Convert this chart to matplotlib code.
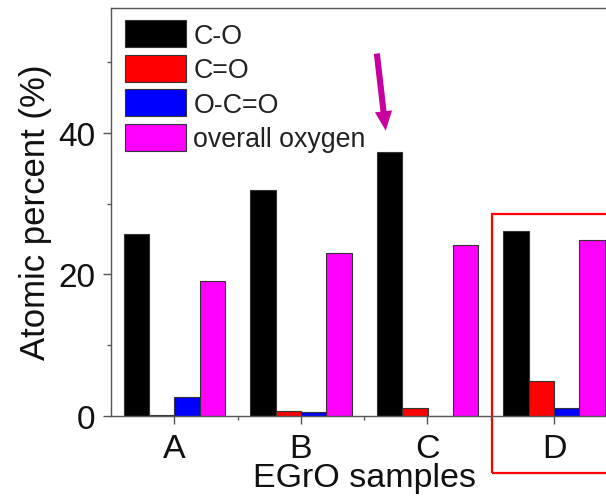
import matplotlib
matplotlib.use("Agg")
import matplotlib.pyplot as plt
from matplotlib.patches import Rectangle
import numpy as np

plt.rcParams['font.family'] = ['Liberation Sans', 'DejaVu Sans']

samples = ['A', 'B', 'C', 'D']
series_names = ['C-O', 'C=O', 'O-C=O', 'overall oxygen']
c_o = [25.7, 31.9, 37.3, 26.2]
c_eq_o = [0.15, 0.7, 1.1, 4.9]
o_c_eq_o = [2.7, 0.5, 0.0, 1.1]
overall = [19.0, 23.0, 24.1, 24.9]
colors = ['#000000', '#ff0000', '#0000ff', '#ff00ff']

fig = plt.figure(figsize=(6.06, 5.02), dpi=100)
ax = fig.add_axes([111/606, 85/502, (617.4-111)/606, (417-8.5)/502])

x = np.arange(1, len(samples) + 1)
width = 0.2
offsets = [-0.3, -0.1, 0.1, 0.3]
for vals, name, col, off in zip([c_o, c_eq_o, o_c_eq_o, overall], series_names, colors, offsets):
    ax.bar(x + off, vals, width, color=col, edgecolor='#333333', linewidth=0.8, label=name)

ax.set_xlim(0.5, 4.5)
ax.set_ylim(0, 57.7)
ax.set_xticks(x)
ax.set_xticklabels(samples)
ax.set_xticks([1.5, 2.5, 3.5], minor=True)
ax.set_yticks([0, 20, 40])
ax.set_yticks([10, 30, 50], minor=True)

for s in ax.spines.values():
    s.set_color('#555555')
    s.set_linewidth(1.0)

ax.tick_params(axis='both', which='major', direction='out', length=6, width=1,
               color='#555555', labelsize=24, labelcolor='#111111')
ax.tick_params(axis='y', which='major', pad=5)
ax.tick_params(axis='x', which='major', pad=6, labelsize=24.5)
ax.tick_params(axis='both', which='minor', direction='out', length=3, width=1, color='#555555')

ax.set_ylabel('Atomic percent (%)', fontsize=25, color='#111111', labelpad=5)
ax.set_xlabel('EGrO samples', fontsize=24.5, color='#111111', labelpad=-1)

leg = ax.legend(loc='upper left', bbox_to_anchor=(125/606, 1 - 21/502),
                bbox_transform=fig.transFigure, frameon=False, fontsize=19.3,
                handlelength=2.28, handleheight=1.18, labelspacing=0.22,
                handletextpad=0.27, borderpad=0, borderaxespad=0)
for t in leg.get_texts():
    t.set_color('#222222')

# arrow pointing to sample C
ax.annotate('', xy=(2.67, 40.3), xytext=(2.60, 51.2),
            arrowprops=dict(arrowstyle='simple,head_length=0.7,head_width=0.62,tail_width=0.22',
                            mutation_scale=20, color='#c800a0', lw=0,
                            shrinkA=0, shrinkB=0))

# red highlight box around D
ax.add_patch(Rectangle((3.51, -8.06), 1.2, 28.5 + 8.06, fill=False,
                       edgecolor='#ff0000', linewidth=1.6, clip_on=False))

fig.savefig('out.png', dpi=100)
